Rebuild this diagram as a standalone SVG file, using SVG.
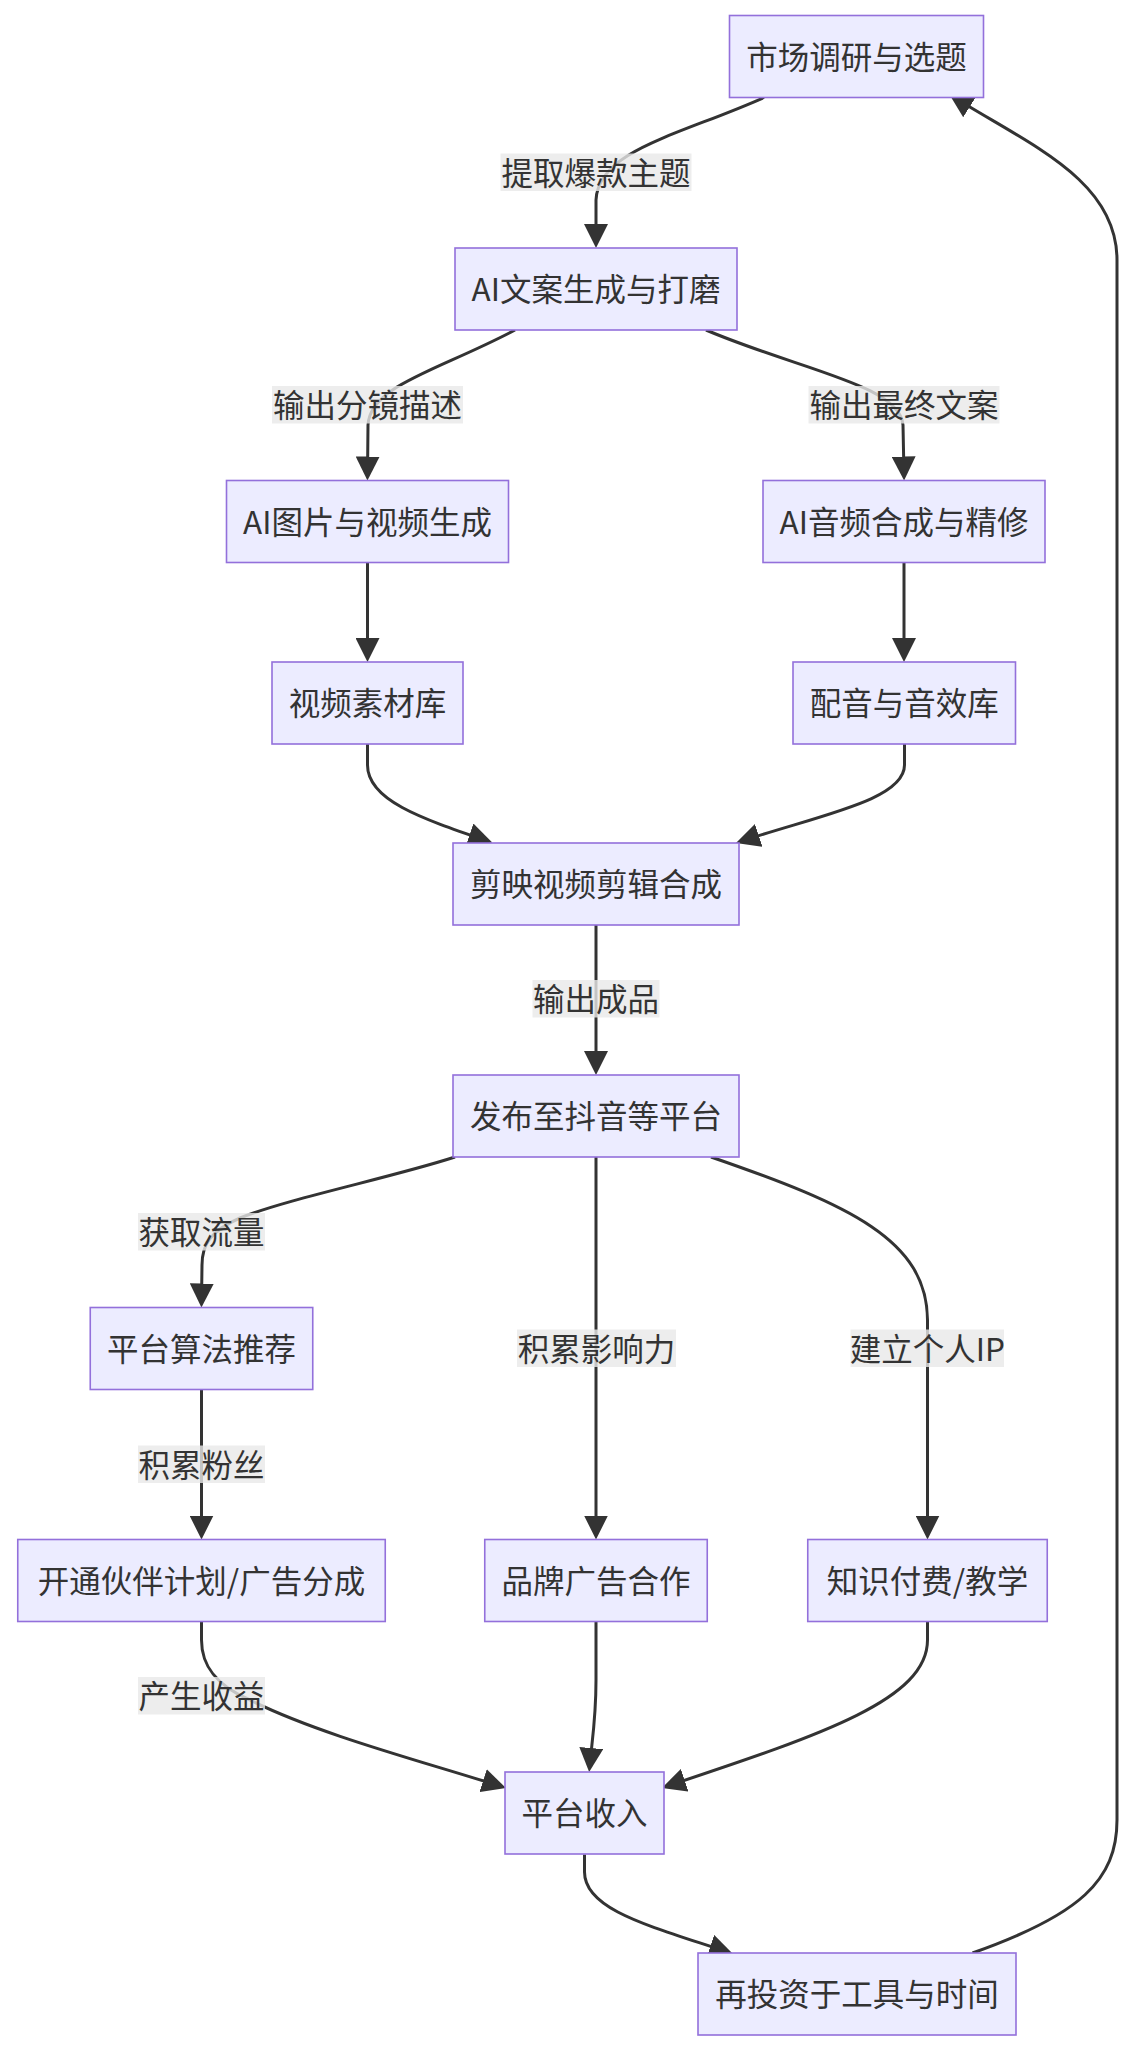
<svg xmlns="http://www.w3.org/2000/svg" width="1132" height="2052" viewBox="0 0 1132 2052">
<style>
.node rect{fill:#ECECFF;stroke:#9370DB;stroke-width:1.6}
.node text,.lbl text{font-family:"Noto Sans CJK SC","Noto Sans",sans-serif;font-size:31.5px;fill:#333;text-anchor:middle;dominant-baseline:central}
.edge{fill:none;stroke:#333;stroke-width:3;marker-end:url(#arr)}
.lbl rect{fill:#e8e8e8;fill-opacity:0.8}
</style>
<defs>
<marker id="arr" viewBox="0 0 24 24" refX="19" refY="12" markerWidth="24" markerHeight="24" markerUnits="userSpaceOnUse" orient="auto">
<path d="M0,0 L24,12 L0,24 z" fill="#333"/>
</marker>
</defs>
<rect width="1132" height="2052" fill="#fff"/>
<g id="connectors">
<path class="edge" d="M764,97.5 C680,135 598,150 596,200 L596,243"/>
<path class="edge" d="M515,330 C440,370 370,385 368,425 L367.5,475.5"/>
<path class="edge" d="M706,330 C800,370 900,385 903,425 L904,475.5"/>
<path class="edge" d="M367.5,562.5 L367.5,657"/>
<path class="edge" d="M904,562.5 L904,657"/>
<path class="edge" d="M367.5,744 L367.5,765 C367.5,800 420,818 487.5,841"/>
<path class="edge" d="M904.5,744 L904.5,765 C904.5,800 820,815 740.7,841.4"/>
<path class="edge" d="M596,925 L596,1070"/>
<path class="edge" d="M455,1157 C390,1178 290,1198 240,1218 C210,1231 202,1245 202,1265 L201.5,1302.5"/>
<path class="edge" d="M596,1157 L596,1534.5"/>
<path class="edge" d="M711,1157 C850,1205 927,1240 927.5,1320 L927.5,1534.5"/>
<path class="edge" d="M201.5,1389.5 L201.5,1534.5"/>
<path class="edge" d="M201.5,1621.5 L201.5,1640 C201.5,1665 215,1685 250,1700 C320,1735 425,1762 501.2,1786.5"/>
<path class="edge" d="M596,1621.5 L596,1680 C596,1720 592,1740 589.6,1767"/>
<path class="edge" d="M927.5,1621.5 L927.5,1640 C927.5,1700 820,1735 666.7,1786.3"/>
<path class="edge" d="M584.5,1854.5 L584.5,1872 C584.5,1910 650,1926 728.3,1952.3"/>
<path class="edge" d="M972.5,1953 C1080,1915 1117,1880 1117,1820 L1117,260 C1117,180 1030,145 953.5,97"/>
</g>
<g id="edge-labels">
<g class="lbl"><rect x="500.5" y="153.5" width="191" height="37.5"/><text x="596" y="170.5">提取爆款主题</text></g>
<g class="lbl"><rect x="272" y="386" width="191" height="37.5"/><text x="367.5" y="403">输出分镜描述</text></g>
<g class="lbl"><rect x="808.5" y="386" width="191" height="37.5"/><text x="904" y="403">输出最终文案</text></g>
<g class="lbl"><rect x="532.5" y="980" width="127" height="37.5"/><text x="596" y="997">输出成品</text></g>
<g class="lbl"><rect x="138" y="1213" width="127" height="37.5"/><text x="201.5" y="1230">获取流量</text></g>
<g class="lbl"><rect x="517" y="1329.5" width="159" height="37.5"/><text x="596.5" y="1346.5">积累影响力</text></g>
<g class="lbl"><rect x="850.5" y="1329.5" width="153.5" height="37.5"/><text x="927.25" y="1346.5">建立个人IP</text></g>
<g class="lbl"><rect x="138" y="1445.5" width="127" height="37.5"/><text x="201.5" y="1462.5">积累粉丝</text></g>
<g class="lbl"><rect x="138" y="1677" width="127" height="37.5"/><text x="201.5" y="1694">产生收益</text></g>
</g>
<g id="n1" class="node"><rect x="729.5" y="15.5" width="254" height="82"/><text x="856.5" y="54.8">市场调研与选题</text></g>
<g id="n2" class="node"><rect x="455" y="248" width="282" height="82"/><text x="596" y="287.3">AI文案生成与打磨</text></g>
<g id="n3" class="node"><rect x="226.5" y="480.5" width="282" height="82"/><text x="367.5" y="519.8">AI图片与视频生成</text></g>
<g id="n4" class="node"><rect x="763" y="480.5" width="282" height="82"/><text x="904" y="519.8">AI音频合成与精修</text></g>
<g id="n5" class="node"><rect x="272" y="662" width="191" height="82"/><text x="367.5" y="701.3">视频素材库</text></g>
<g id="n6" class="node"><rect x="793" y="662" width="222.5" height="82"/><text x="904.25" y="701.3">配音与音效库</text></g>
<g id="n7" class="node"><rect x="453" y="843" width="286" height="82"/><text x="596" y="882.3">剪映视频剪辑合成</text></g>
<g id="n8" class="node"><rect x="453" y="1075" width="286" height="82"/><text x="596" y="1114.3">发布至抖音等平台</text></g>
<g id="n9" class="node"><rect x="90.25" y="1307.5" width="222.5" height="82"/><text x="201.5" y="1346.8">平台算法推荐</text></g>
<g id="n10" class="node"><rect x="17.75" y="1539.5" width="367.5" height="82"/><text x="201.5" y="1578.8">开通伙伴计划/广告分成</text></g>
<g id="n11" class="node"><rect x="484.75" y="1539.5" width="222.5" height="82"/><text x="596" y="1578.8">品牌广告合作</text></g>
<g id="n12" class="node"><rect x="807.75" y="1539.5" width="239.5" height="82"/><text x="927.5" y="1578.8">知识付费/教学</text></g>
<g id="n13" class="node"><rect x="505" y="1772" width="159" height="82"/><text x="584.5" y="1811.3">平台收入</text></g>
<g id="n14" class="node"><rect x="698" y="1953" width="318" height="82"/><text x="857" y="1992.3">再投资于工具与时间</text></g>
</svg>
